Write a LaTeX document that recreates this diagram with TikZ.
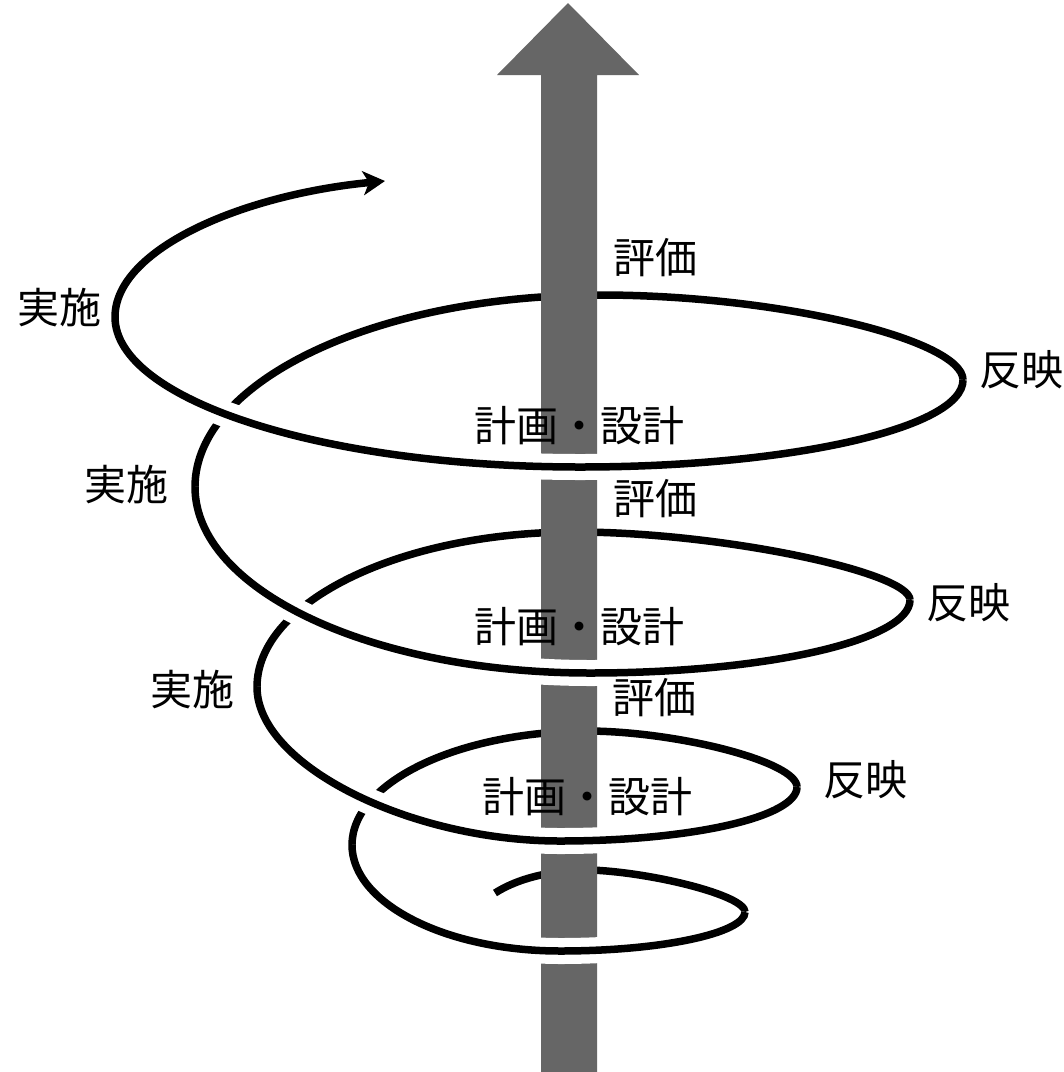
\documentclass[tikz,border=0pt]{standalone}
\usepackage{fontspec}
\newfontfamily\jp{Noto Sans CJK JP}
\usetikzlibrary{arrows.meta}
\definecolor{shaftgray}{HTML}{666666}
\begin{document}
\begin{tikzpicture}[x=1pt,y=-1pt,
  back/.style={line width=7.5pt, draw=black},
  front/.style={line width=7.5pt, draw=black, preaction={draw=white, line width=26pt}},
  shaft/.style={fill=shaftgray, draw=none},
  lbl/.style={font=\jp\fontsize{42}{42}\selectfont, inner sep=0pt, text=black}]
\fill[white] (0,0) rectangle (1064,1072);
\useasboundingbox (0,0) rectangle (1064,1072);
% key points of the spiral
\coordinate (S)  at (495,893);
\coordinate (T0) at (590,870);
\coordinate (R0) at (745,912);
\coordinate (B0) at (560,951);
\coordinate (L0) at (352,845);
\coordinate (T1) at (590,731);
\coordinate (R1) at (797,787);
\coordinate (B1) at (560,841);
\coordinate (L1) at (257,687);
\coordinate (T2) at (575,532);
\coordinate (R2) at (910,600);
\coordinate (B2) at (590,673);
\coordinate (L2) at (195,487);
\coordinate (T3) at (600,295);
\coordinate (R3) at (963,380);
\coordinate (B3) at (580,467);
\coordinate (L3) at (115,317);
\coordinate (E)  at (385,181);
% back halves (behind the shaft)
\draw[back] (S) .. controls (520,877) and (555,870) .. (T0) .. controls (650,872) and (745,895) .. (R0);
\draw[back] (L0) .. controls (352,782) and (459,731) .. (T1) .. controls (680,732) and (797,762) .. (R1);
\draw[back] (L1) .. controls (257,601) and (402,532) .. (T2) .. controls (720,532) and (910,572) .. (R2);
\draw[back] (L2) .. controls (195,381) and (376,295) .. (T3) .. controls (780,295) and (963,340) .. (R3);
% shaft with arrow head
\path[shaft] (541,1072) -- (541,75) -- (497,75) -- (568,3) -- (639,75) -- (597,75) -- (597,1072) -- cycle;
% front halves (in front of the shaft)
\draw[front] (R0) .. controls (745,933) and (662,951) .. (B0) .. controls (445,951) and (352,903) .. (L0);
\draw[front] (R1) .. controls (797,817) and (691,841) .. (B1) .. controls (410,841) and (257,765) .. (L1);
\draw[front] (R2) .. controls (910,640) and (767,673) .. (B2) .. controls (372,673) and (195,590) .. (L2);
\draw[front] (R3) .. controls (963,428) and (791,467) .. (B3) .. controls (323,467) and (115,400) .. (L3);
\draw[back, -{Stealth[length=22pt,width=24pt,inset=6pt]}] (L3) .. controls (115,250) and (240,195) .. (E);
% labels
\node[lbl] (h1) at (655,258) {評価};
\node[lbl] (h2) at (655,499) {評価};
\node[lbl] (h3) at (654,698) {評価};
\node[lbl] (k1) at (579,426) {計画・設計};
\node[lbl] (k2) at (579,627) {計画・設計};
\node[lbl] (k3) at (587,797) {計画・設計};
\node[lbl] (r1) at (1021,370) {反映};
\node[lbl] (r2) at (968,603) {反映};
\node[lbl] (r3) at (865,780) {反映};
\node[lbl] (j1) at (59,308) {実施};
\node[lbl] (j2) at (126,485) {実施};
\node[lbl] (j3) at (192,690) {実施};
\end{tikzpicture}
\end{document}
